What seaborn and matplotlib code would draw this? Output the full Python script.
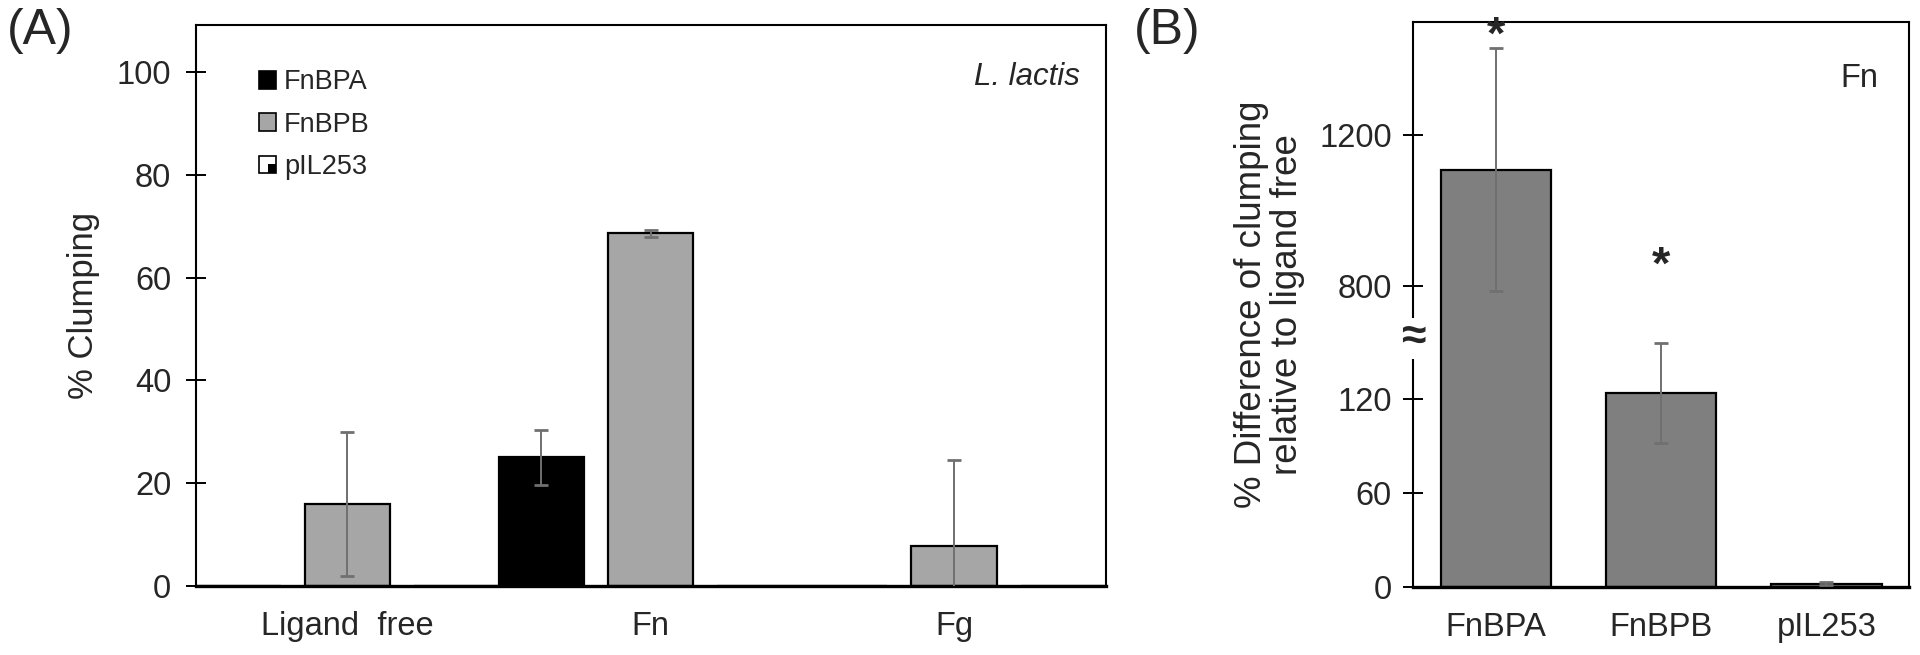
import numpy as np
import pandas as pd
import matplotlib
matplotlib.use("Agg")
import matplotlib.pyplot as plt
import matplotlib.patches as mpatches
import seaborn as sns

# Panel A data: % clumping per ligand and strain
ligands = ["Ligand  free", "Fn", "Fg"]
strains = ["FnBPA", "FnBPB", "pIL253"]
fnbpa_vals = [0.0, 25.0, 0.0]
fnbpa_err = [0.0, 5.4, 0.0]
fnbpb_vals = [15.9, 68.6, 7.7]
fnbpb_err = [14.0, 0.7, 16.8]
pil_vals = [0.0, 0.0, 0.0]
pil_err = [0.0, 0.0, 0.0]

# Panel B data: % difference relative to ligand free (Fn)
b_strains = ["FnBPA", "FnBPB", "pIL253"]
b_vals = [1108.0, 124.0, 2.0]
b_err = [322.0, 32.0, 1.0]
b_star_y = [1462.0, 850.0]
b_ticks = [0, 60, 120, 800, 1200]

sns.set_theme(style="white")
plt.rcParams["font.family"] = ["Liberation Sans", "DejaVu Sans"]

fig = plt.figure(figsize=(19.2, 6.55), dpi=100)
axA = fig.add_axes([0.1019, 0.1058, 0.4740, 0.8560])
axB = fig.add_axes([0.7361, 0.1043, 0.2582, 0.8621])

FS = 23.5
ERR = "#707070"


class QuadHandler:
    # white square with a black lower-right quarter, like the pIL253 key
    def legend_artist(self, legend, orig_handle, fontsize, handlebox):
        x0, y0 = -handlebox.xdescent, -handlebox.ydescent
        w, h = handlebox.width, handlebox.height
        tr = handlebox.get_transform()
        outer = mpatches.Rectangle((x0, y0), w, h, facecolor="white",
                                   edgecolor="black", linewidth=1.2, transform=tr)
        inner = mpatches.Rectangle((x0 + w / 2, y0), w / 2, h / 2, facecolor="black",
                                   edgecolor="none", transform=tr)
        handlebox.add_artist(outer)
        handlebox.add_artist(inner)
        return outer


# ---- Panel A ----
dfA = pd.DataFrame({
    "Ligand": ligands * 3,
    "Strain": np.repeat(strains, 3),
    "Value": fnbpa_vals + fnbpb_vals + pil_vals,
    "Err": fnbpa_err + fnbpb_err + pil_err,
})
palA = {"FnBPA": "#000000", "FnBPB": "#a6a6a6", "pIL253": "#ffffff"}
sns.barplot(data=dfA, x="Ligand", y="Value", hue="Strain", hue_order=strains,
            order=ligands, palette=palA, width=1.08, gap=0.22, errorbar=None,
            edgecolor="black", linewidth=1.6, legend=False, ax=axA)

for cont, s in zip(axA.containers, strains):
    sub = dfA[dfA["Strain"] == s]
    for bar, v, e in zip(cont.patches, sub["Value"], sub["Err"]):
        if v > 0:
            axA.errorbar(bar.get_x() + bar.get_width() / 2, v, yerr=e, fmt="none",
                         ecolor=ERR, elinewidth=1.4, capsize=5, capthick=2, zorder=5)

axA.set_ylim(0, 109.2)
axA.set_xlim(-0.5, 2.5)
axA.set_yticks([0, 20, 40, 60, 80, 100])
axA.set_xlabel("")
axA.set_ylabel("% Clumping", fontsize=25, labelpad=12)
axA.tick_params(axis="y", direction="inout", length=15, width=1.4, labelsize=FS,
                pad=10, left=True, color="black")
axA.tick_params(axis="x", length=0, labelsize=FS, pad=18)
for sp in axA.spines.values():
    sp.set_color("black")
    sp.set_linewidth(1.5)
axA.spines["bottom"].set_linewidth(2.4)

handles = [mpatches.Patch(facecolor=palA[s], edgecolor="black", linewidth=1.2, label=s)
           for s in strains]
axA.legend(handles=handles, loc="upper left", bbox_to_anchor=(0.058, 0.94),
           frameon=False, fontsize=19.5, handlelength=0.62, handleheight=0.62,
           handletextpad=0.3, labelspacing=0.6, borderaxespad=0,
           handler_map={handles[2]: QuadHandler()})
axA.text(0.972, 0.908, "L. lactis", transform=axA.transAxes, ha="right", va="center",
         fontsize=22.5, style="italic")

# ---- Panel B (broken y axis) ----
dfB = pd.DataFrame({"Strain": b_strains, "Value": b_vals})
sns.barplot(data=dfB, x="Strain", y="Value", color="#7f7f7f", saturation=1,
            width=0.667, errorbar=None, edgecolor="black", linewidth=1.6, ax=axB)
for bar, v, e in zip(axB.patches, b_vals, b_err):
    axB.errorbar(bar.get_x() + bar.get_width() / 2, v, yerr=e, fmt="none",
                 ecolor=ERR, elinewidth=1.4, capsize=5, capthick=2, zorder=5)
for bar, y in zip(axB.patches, b_star_y):
    axB.text(bar.get_x() + bar.get_width() / 2, y, "*", ha="center", va="center",
             fontsize=34, fontweight="bold")

LO, HI, K = 158.5, 659.0, 0.2409


def fwd(v):
    v = np.asarray(v, dtype=float)
    mid = LO + (v - LO) * (0.1 / (HI - LO))
    return np.where(v <= LO, v, np.where(v >= HI, LO + 0.1 + (v - HI) * K, mid))


def inv(t):
    t = np.asarray(t, dtype=float)
    mid = LO + (t - LO) * ((HI - LO) / 0.1)
    return np.where(t <= LO, t, np.where(t >= LO + 0.1, HI + (t - LO - 0.1) / K, mid))


axB.set_yscale("function", functions=(fwd, inv))
axB.set_ylim(0, 1500)
axB.set_xlim(-0.5, 2.5)
axB.set_yticks(b_ticks)
axB.set_yticklabels([str(t) for t in b_ticks])
axB.yaxis.set_minor_locator(matplotlib.ticker.NullLocator())
axB.set_xlabel("")
axB.set_ylabel("% Difference of clumping\nrelative to ligand free", fontsize=26.5,
               labelpad=10, linespacing=1.05)
axB.tick_params(axis="y", direction="inout", length=15, width=1.4, labelsize=FS,
                pad=8, left=True, color="black")
axB.tick_params(axis="x", length=0, labelsize=FS, pad=18)
for sp in axB.spines.values():
    sp.set_color("black")
    sp.set_linewidth(1.5)
axB.spines["bottom"].set_linewidth(2.4)

# axis break mark
brk = matplotlib.transforms.blended_transform_factory(axB.transAxes, axB.transData)
axB.text(0.0, (LO + HI) / 2, "\u2248", transform=brk, ha="center", va="center",
         fontsize=32, fontweight="bold", clip_on=False, zorder=10,
         bbox=dict(facecolor="white", edgecolor="none", pad=0))
axB.text(0.9, 0.9, "Fn", transform=axB.transAxes, ha="center", va="center",
         fontsize=FS)

# panel letters
fig.text(0.021, 0.952, "(A)", fontsize=36, ha="center", va="center")
fig.text(0.608, 0.952, "(B)", fontsize=36, ha="center", va="center")

fig.savefig("out.png", dpi=100)
